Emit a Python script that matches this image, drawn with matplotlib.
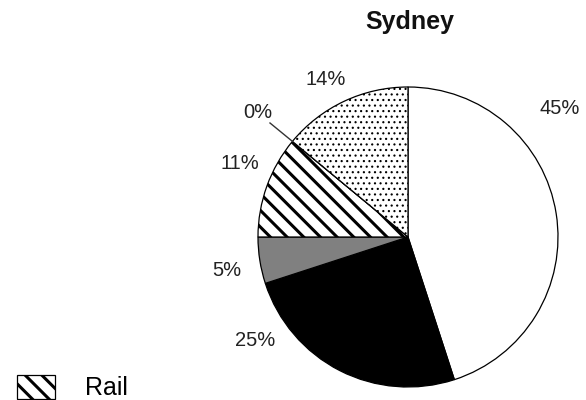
import matplotlib.pyplot as plt
import numpy as np

plt.rcParams['font.family'] = ['Liberation Sans', 'DejaVu Sans']
plt.rcParams['hatch.linewidth'] = 2.2
plt.rcParams['hatch.color'] = 'black'

# slices, clockwise from 12 o'clock
shares = [45, 25, 5, 11, 0, 14]
share_labels = ['45%', '25%', '5%', '11%', '0%', '14%']
colors = ['white', 'black', '#808080', 'white', 'white', 'white']
hatches = ['', '', '', '\\\\', '', '...']
title = 'Sydney'
legend_name = 'Rail'

# label spots (pie radius = 1)
label_xy = [(1.01, 0.86), (-1.02, -0.69), (-1.21, -0.22), (-1.12, 0.49), (-1.0, 0.83), (-0.55, 1.05)]

fig = plt.figure(figsize=(5.86, 4.0), dpi=100)
ax = fig.add_axes([0, 0, 1, 1])
R = 150.0
cx, cy = 408, 237

wedges, _ = ax.pie(shares, startangle=90, counterclock=False, colors=colors,
                   radius=1.0, center=(0, 0), frame=True,
                   wedgeprops=dict(edgecolor='black', linewidth=0.9))
for w, h in zip(wedges, hatches):
    if h:
        w.set_hatch(h)
        if h.startswith('.') and hasattr(w, 'set_hatch_linewidth'):
            w.set_hatch_linewidth(0.8)
ax.set_xlim(-cx / R, (586 - cx) / R)
ax.set_ylim(-(400 - cy) / R, cy / R)
ax.set_aspect('auto')
ax.axis('off')

for (x, y), t in zip(label_xy, share_labels):
    ax.text(x, y, t, fontsize=14.5, ha='center', va='center', color='#222222')

# leader line for the 0% slice
ang = np.deg2rad(90 + 3.6 * 14)
ax.plot([np.cos(ang), -0.92], [np.sin(ang), 0.76], color='#333333', lw=1)

fig.text(410 / 586, 1 - 22 / 400, title, fontsize=18, fontweight='bold',
         ha='center', va='center', color='#111111')

fig.legend([wedges[3]], [legend_name], loc='upper left',
           bbox_to_anchor=(0.012, 0.088), frameon=False, fontsize=18,
           handlelength=1.5, handleheight=1.1, handletextpad=1.2,
           borderaxespad=0)

fig.savefig('out.png', dpi=100)
